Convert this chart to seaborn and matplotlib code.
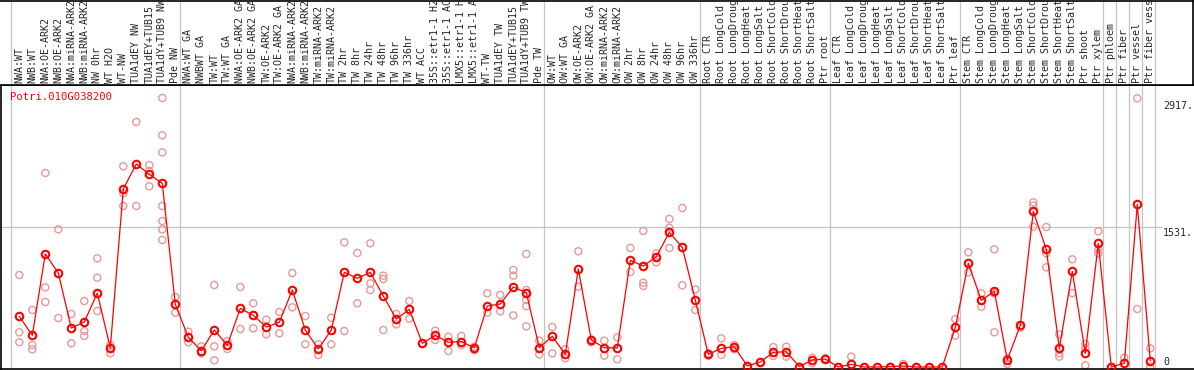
import matplotlib

matplotlib.use("Agg")
import matplotlib.pyplot as plt
import numpy as np
import pandas as pd
import seaborn as sns


GENE = "Potri.010G038200"

SAMPLES = [
    "NWA:WT", "NWB:WT", "NWA:OE-ARK2", "NWB:OE-ARK2", "NWA:miRNA-ARK2", "NWB:miRNA-ARK2",
    "NW 0hr", "WT H2O", "WT-NW", "TUA1dEY NW", "TUA1dEY+TUB15", "TUA1dY+TUB9 NW", "Pde NW",
    "NWA:WT GA", "NWBWT GA", "TW:WT", "TW:WT GA", "NWA:OE-ARK2 GA", "NWB:OE-ARK2 GA",
    "TW:OE-ARK2", "TW:OE-ARK2 GA", "NWA:miRNA-ARK2", "NWB:miRNA-ARK2", "TW:miRNA-ARK2",
    "TW:miRNA-ARK2", "TW 2hr", "TW 8hr", "TW 24hr", "TW 48hr", "TW 96hr", "TW 336hr",
    "WT ACC", "35S::etr1-1 H2", "35S::etr1-1 AC", "LMX5::etr1-1 H", "LMX5::etr1-1 A",
    "WT-TW", "TUA1dEY TW", "TUA1dEY+TUB15", "TUA1dY+TUB9 TW", "Pde TW",
    "OW:WT", "OW:WT GA", "OW:OE-ARK2", "OW:OE-ARK2 GA", "OW:miRNA-ARK2", "OW:miRNA-ARK2",
    "OW 2hr", "OW 8hr", "OW 24hr", "OW 48hr", "OW 96hr", "OW 336hr",
    "Root CTR", "Root LongCold", "Root LongDroug", "Root LongHeat", "Root LongSalt",
    "Root ShortCold", "Root ShortDrou", "Root ShortHeat", "Root ShortSalt", "Ptr root",
    "Leaf CTR", "Leaf LongCold", "Leaf LongDroug", "Leaf LongHeat", "Leaf LongSalt",
    "Leaf ShortCold", "Leaf ShortDrou", "Leaf ShortHeat", "Leaf ShortSalt", "Ptr leaf",
    "Stem CTR", "Stem LongCold", "Stem LongDroug", "Stem LongHeat", "Stem LongSalt",
    "Stem ShortCold", "Stem ShortDrou", "Stem ShortHeat", "Stem ShortSalt", "Ptr shoot",
    "Ptr xylem", "Ptr phloem", "Ptr fiber", "Ptr vessel", "Ptr fiber vess",
]

# samples per experiment block (vertical separators)
GROUP_SIZES = [13, 28, 12, 10, 10, 11, 1, 1, 1, 1]

MEAN_EXPR = [
    553, 346, 1235, 1027, 426, 492, 807, 208, 1945, 2218, 2105, 2007, 685,
    324, 178, 404, 237, 641, 564, 437, 488, 841, 404, 197, 404, 1034, 969, 1034,
    776, 524, 630, 259, 346, 270, 277, 211, 666, 688, 874, 812, 211,
    335, 138, 1071, 295, 211, 208, 1165, 1103, 1205, 1471, 1307, 732,
    138, 204, 222, 11, 55, 160, 167, 4, 77, 87,
    0, 29, 0, 0, 4, 11, 0, 0, 0, 433,
    1133, 728, 827, 77, 455, 1701, 1286, 204, 1045, 149, 1351,
    0, 40, 1777, 66,
]

REPLICATES = [
    [1005, 379, 270], [623, 240, 193], [2120, 870, 710], [1504, 535], [579, 259],
    [721, 393, 339], [1187, 976, 798, 612], [240, 149], [2192, 1897, 1759], [2677, 1759],
    [2207, 2141, 1974], [2939, 2531, 2345, 1759, 1595, 1504, 1388], [765, 594],
    [386, 270], [226, 149], [896, 226, 73], [284, 197], [874, 415], [696, 422],
    [517, 357], [601, 368], [1027, 652], [557, 248], [248, 131], [539, 248],
    [1362, 393], [1246, 696], [1351, 914, 841], [998, 961, 404], [579, 466],
    [721, 528], [259], [397, 295], [331, 175], [339, 240], [222, 186], [805, 594],
    [787, 608], [1060, 998, 564], [1235, 807, 841, 732, 666, 444], [288, 138],
    [437, 149], [193, 95], [1264, 878], [300, 270], [288, 124], [324, 84],
    [1300, 1038], [1486, 921, 885], [1242, 1143], [1617, 1522, 1300], [1737, 892],
    [848, 623],
    [149, 124], [313, 131], [240, 193], [11], [55], [218, 120], [222, 113], [4],
    [102, 40], [95],
    [0], [113], [0], [0], [4], [33], [0], [0], [0], [524, 342],
    [1253, 1034], [805, 659], [1286, 805, 379], [95, 33], [429], [1799, 1763, 1533],
    [1529, 1242, 1089], [357, 149, 113], [1176, 807], [251, 204, 18], [1482, 1286, 1242],
    [0], [102], [2935, 634], [204, 4],
]

Y_TICKS = [0, 1531, 2917]
Y_TICK_LABELS = ["0", "1531.", "2917."]

# canvas geometry (pixels)
W, H = 1194, 370
X0_PX, STEP_PX = 19.3, 13.0
ZERO_PX, PX_PER_UNIT = 367.0, 0.09153
PLOT_TOP, PLOT_BOTTOM = 85, 369
LABEL_X = 1163

MEAN_COLOR = "#FF0000"
REP_COLOR = "#E89898"
GRID_COLOR = "#C4C4C4"


def px_to_x(p):
    return (p - X0_PX) / STEP_PX


def px_to_y(p):
    return (ZERO_PX - p) / PX_PER_UNIT


def main():
    sns.set_style("white")
    plt.rcParams["font.family"] = ["DejaVu Sans Mono"]
    plt.rcParams["font.size"] = 7.2

    idx = np.arange(len(SAMPLES))
    reps = pd.DataFrame(
        [(i, v) for i, vals in enumerate(REPLICATES) for v in vals], columns=["sample", "value"]
    )
    means = pd.DataFrame({"sample": idx, "value": MEAN_EXPR})

    fig = plt.figure(figsize=(W / 100, H / 100), dpi=100)
    ax = fig.add_axes([1 / W, (H - PLOT_BOTTOM) / H, (W - 1) / W, (PLOT_BOTTOM - PLOT_TOP) / H])
    hdr = fig.add_axes([0, (H - PLOT_TOP) / H, (W - 1) / W, (PLOT_TOP - 1) / H])

    ax.set_xlim(px_to_x(1), px_to_x(W))
    ax.set_ylim(px_to_y(PLOT_BOTTOM), px_to_y(PLOT_TOP))
    hdr.set_xlim(px_to_x(0), px_to_x(W - 1))
    hdr.set_ylim(0, 1)

    edges = np.concatenate([[0], np.cumsum(GROUP_SIZES)]) - 0.64
    for e in edges:
        ax.axvline(e, color=GRID_COLOR, lw=0.9, zorder=0)
        hdr.axvline(e, color=GRID_COLOR, lw=0.9, zorder=0)
    ax.hlines(Y_TICKS[1], px_to_x(1), px_to_x(LABEL_X - 1), color=GRID_COLOR, lw=0.9, zorder=0)

    sns.scatterplot(
        data=reps, x="sample", y="value", ax=ax, marker="o", s=26,
        facecolor="none", edgecolor=REP_COLOR, linewidth=1.0, zorder=2,
    )
    sns.lineplot(
        data=means, x="sample", y="value", ax=ax, color=MEAN_COLOR, lw=0.9,
        marker="o", markersize=5.4, markerfacecolor="none", markeredgecolor=MEAN_COLOR,
        markeredgewidth=1.5, errorbar=None, sort=False, zorder=3,
    )

    for a in (ax, hdr):
        a.set_xticks([])
        a.set_yticks([])
        a.set_xlabel("")
        a.set_ylabel("")
        for sp in a.spines.values():
            sp.set_color("black")
            sp.set_linewidth(1.2)
    ax.spines["right"].set_visible(False)
    hdr.spines["left"].set_visible(False)

    for i, lab in enumerate(SAMPLES):
        hdr.annotate(
            lab, xy=(i, 0), xycoords=("data", "axes fraction"), xytext=(0, 2),
            textcoords="offset pixels", rotation=90, ha="center", va="bottom",
        )

    ax.annotate(
        GENE, xy=(0, 1), xycoords="axes fraction", xytext=(9, -7),
        textcoords="offset pixels", color=MEAN_COLOR, ha="left", va="top", fontsize=7.6,
    )
    for v, lab in zip(Y_TICKS, Y_TICK_LABELS):
        dy = 5 if v == 0 else -6
        ax.annotate(
            lab, xy=(px_to_x(LABEL_X), v), xycoords="data", xytext=(0, dy),
            textcoords="offset pixels", ha="left", va="center", annotation_clip=False,
        )

    fig.savefig("out.png", dpi=100)
    plt.close(fig)


if __name__ == "__main__":
    main()
